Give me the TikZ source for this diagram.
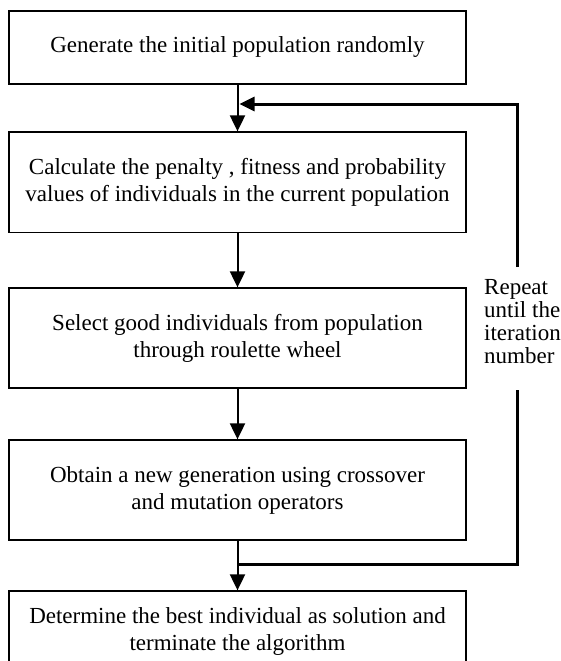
\documentclass[tikz,border=0pt]{standalone}
\usepackage{fontspec}
\setmainfont{Liberation Serif}
\usetikzlibrary{arrows.meta}
\begin{document}
\begin{tikzpicture}[x=1pt,y=-1pt,
  box/.style={draw,line width=1.3pt,minimum width=457pt,inner sep=0pt,align=center,font=\fontsize{23}{27}\selectfont},
  flow/.style={line width=2pt,-{Triangle[width=15pt,length=16pt]}},
  back/.style={line width=3pt,line join=miter},
  backarrow/.style={back,-{Triangle[width=14pt,length=15pt]}},
  lbl/.style={anchor=north west,inner sep=0pt,align=left,font=\fontsize{23}{23}\selectfont}]
\useasboundingbox (0,0) rectangle (561,661);
\node[box,minimum height=73pt] (b1) at (237.5,47.5) {Generate the initial population randomly};
\node[box,minimum height=100.5pt] (b2) at (237.5,182.25) {Calculate the penalty , fitness and probability\\values of individuals in the current population};
\node[box,minimum height=100pt] (b3) at (237.5,338) {Select good individuals from population\\through roulette wheel};
\node[box,minimum height=100pt] (b4) at (237.5,490) {Obtain a new generation using crossover\\and mutation operators};
\node[box,minimum height=80pt] (b5) at (237.5,631) {Determine the best individual as solution and\\terminate the algorithm};
\draw[flow] (b1) -- (b2);
\draw[flow] (b2) -- (b3);
\draw[flow] (b3) -- (b4);
\draw[flow] (b4) -- (b5);
\coordinate (j1) at (237.5,564);
\coordinate (r1) at (517,564);
\coordinate (g1) at (517,390);
\coordinate (g2) at (517,267);
\coordinate (r2) at (517,104);
\coordinate (j2) at (239.5,104);
\draw[back] (j1) -- (r1) -- (g1);
\draw[backarrow] (g2) -- (r2) -- (j2);
\node[lbl] (rep) at (484,279) {Repeat\\until the\\iteration\\number};
\end{tikzpicture}
\end{document}
